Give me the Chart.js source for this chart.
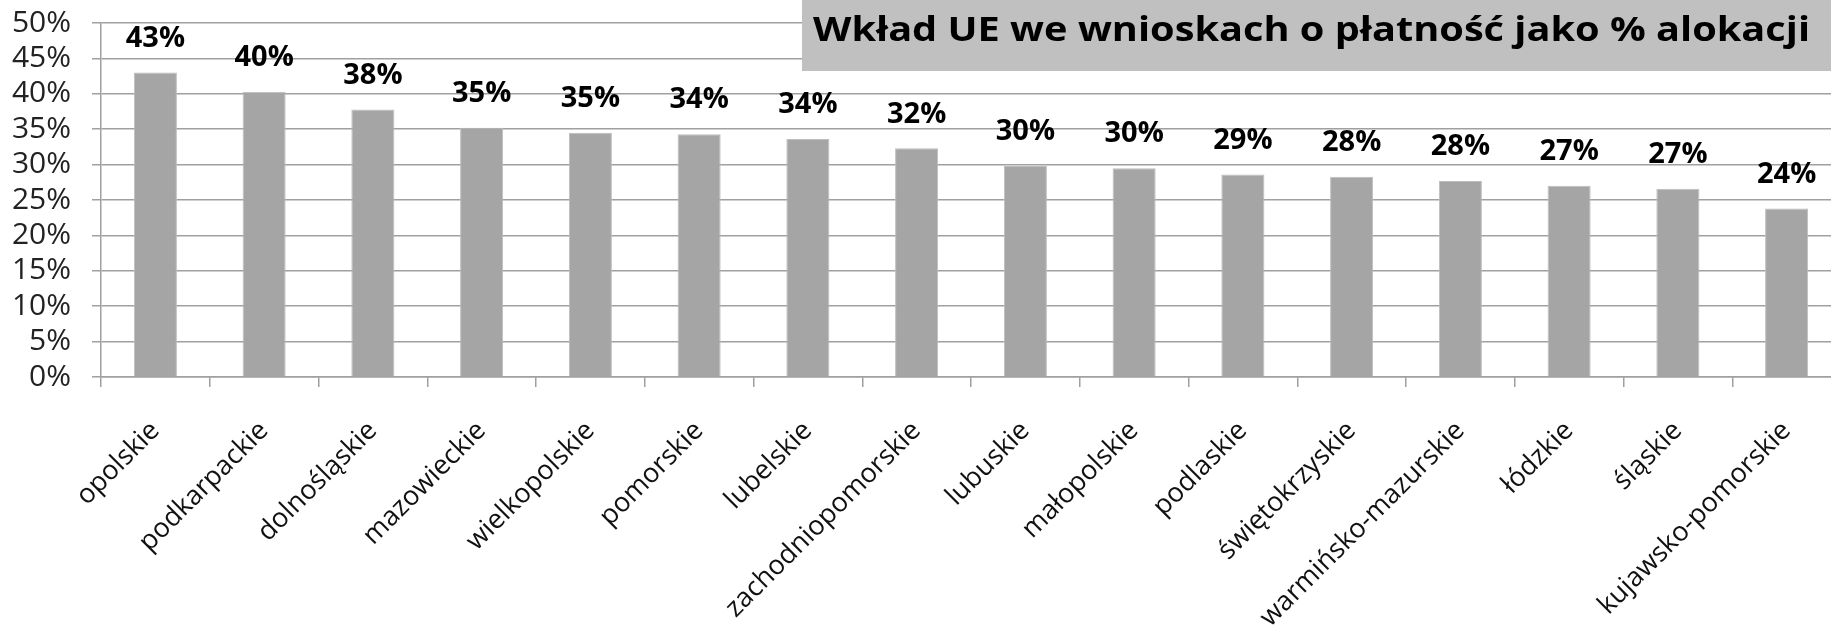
<!DOCTYPE html>
<html>
<head>
<meta charset="utf-8">
<script src="https://cdn.jsdelivr.net/npm/chart.js@4"></script>
<style>
  html, body { margin: 0; padding: 0; background: #fff; overflow: hidden; }
  #wrap { width: 1831px; height: 630px; overflow: hidden; }
</style>
</head>
<body>
<div id="wrap"><canvas id="chart" width="1845" height="630"></canvas></div>
<script>
const regions = ['opolskie', 'podkarpackie', 'dolnośląskie', 'mazowieckie', 'wielkopolskie',
    'pomorskie', 'lubelskie', 'zachodniopomorskie', 'lubuskie', 'małopolskie', 'podlaskie',
    'świętokrzyskie', 'warmińsko-mazurskie', 'łódzkie', 'śląskie', 'kujawsko-pomorskie'];
const shares = [43.0, 40.3, 37.8, 35.2, 34.5, 34.3, 33.6, 32.3, 29.8, 29.5, 28.6, 28.3, 27.7, 27.0, 26.6, 23.8];
const yTicks = [0, 5, 10, 15, 20, 25, 30, 35, 40, 45, 50];
const title = 'Wkład UE we wnioskach o płatność jako % alokacji';

const ctx = document.getElementById('chart').getContext('2d');

// percentage labels above each bar
const barLabels = {
    id: 'barLabels',
    afterDatasetsDraw(chart) {
        const c = chart.ctx;
        const meta = chart.getDatasetMeta(0);
        c.save();
        c.font = 'bold 29px "Open Sans"';
        c.fillStyle = '#000';
        c.textAlign = 'center';
        c.textBaseline = 'middle';
        meta.data.forEach((bar, i) => {
            c.fillText(Math.round(shares[i]) + '%', bar.x, bar.y - 34);
        });
        c.restore();
    }
};

// grey title box in the top right corner
const titleBox = {
    id: 'titleBox',
    afterDraw(chart) {
        const c = chart.ctx;
        c.save();
        c.fillStyle = '#c0c0c0';
        c.fillRect(802, 0, chart.width - 802, 71);
        c.font = 'bold 34px "Open Sans"';
        const w = c.measureText(title).width;
        c.fillStyle = '#000';
        c.textAlign = 'left';
        c.textBaseline = 'alphabetic';
        c.translate(813, 41);
        c.scale(997 / w, 1);
        c.fillText(title, 0, 0);
        c.restore();
    }
};

new Chart(ctx, {
    type: 'bar',
    data: {
        labels: regions,
        datasets: [{
            data: shares,
            backgroundColor: '#a5a5a5',
            borderColor: '#bdbdbd',
            borderWidth: 1,
            categoryPercentage: 1,
            barPercentage: 0.396
        }]
    },
    options: {
        responsive: false,
        animation: false,
        layout: { padding: { top: 23, right: 4, left: 0, bottom: 0 } },
        plugins: {
            legend: { display: false },
            tooltip: { enabled: false },
            title: { display: false }
        },
        scales: {
            x: {
                afterFit: (s) => { s.height = 253; },
                grid: {
                    offset: true,
                    drawOnChartArea: false,
                    drawTicks: true,
                    tickLength: 10,
                    color: '#a0a0a0',
                    lineWidth: 1.5
                },
                border: { display: true, color: '#a0a0a0', width: 1.5 },
                ticks: {
                    minRotation: 45,
                    maxRotation: 45,
                    autoSkip: false,
                    padding: 28,
                    color: '#111',
                    font: { family: '"Open Sans"', size: 27 }
                }
            },
            y: {
                min: 0,
                max: 50,
                afterFit: (s) => { s.width = 101; s.paddingTop = 0; s.paddingBottom = 0; },
                afterBuildTicks: (s) => { s.ticks = yTicks.map(v => ({ value: v })); },
                grid: {
                    color: '#a0a0a0',
                    lineWidth: 1.5,
                    tickLength: 9
                },
                border: { display: true, color: '#a0a0a0', width: 1.5 },
                ticks: {
                    autoSkip: false,
                    padding: 21,
                    color: '#222',
                    font: { family: '"Open Sans"', size: 30 },
                    callback: (v) => v + '%'
                }
            }
        }
    },
    plugins: [barLabels, titleBox]
});
</script>
</body>
</html>
